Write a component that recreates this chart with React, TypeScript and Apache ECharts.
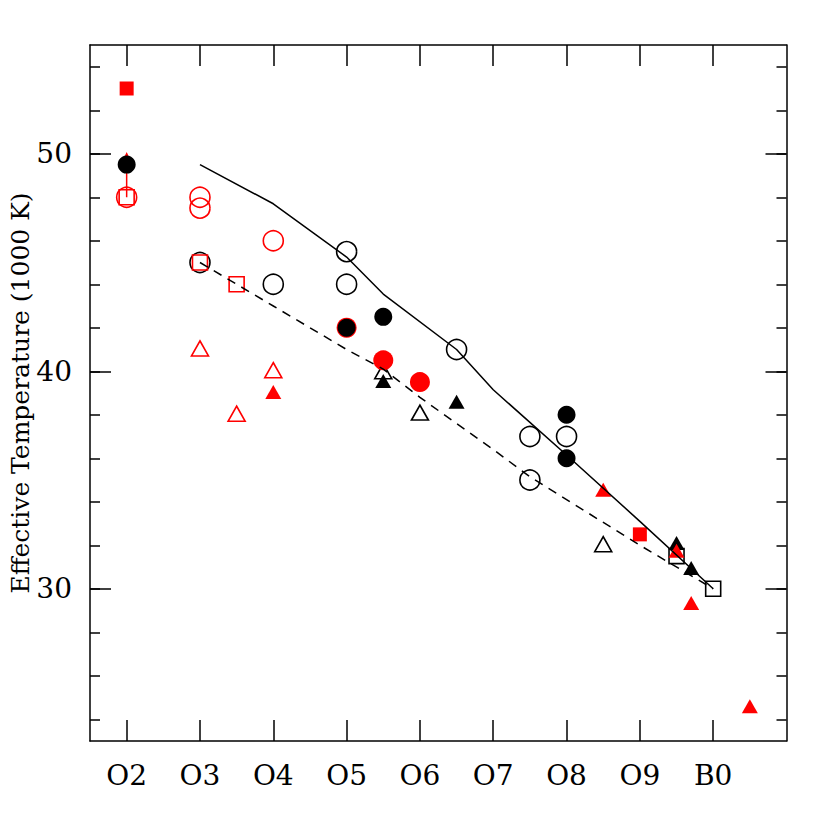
import React, { useEffect, useRef } from "react";
import * as echarts from "echarts";

const spectralTicks = [2, 3, 4, 5, 6, 7, 8, 9, 10];
const spectralLabels = ["O2", "O3", "O4", "O5", "O6", "O7", "O8", "O9", "B0"];
const tempMinorTicks = [24, 26, 28, 30, 32, 34, 36, 38, 40, 42, 44, 46, 48, 50, 52, 54];
const tempMajorTicks = [30, 40, 50];

const modelSolid = [[3, 49.5], [4, 47.7], [5, 45.25], [5.5, 43.55], [6.5, 41.0], [7, 39.15], [8, 36.15], [9, 33.1], [10, 30.0]];
const modelDashed = [[3, 45.0], [4, 43.0], [5, 41.0], [5.5, 40.1], [6, 38.8], [7, 36.4], [7.5, 35.15], [8, 34.1], [9, 32.0], [10, 30.0]];

const blackOpenCircles = [[3, 45], [4, 44], [5, 45.5], [5, 44], [6.5, 41], [7.5, 37], [7.5, 35], [8, 37]];
const redOpenCircles = [[2, 48], [3, 48], [3, 47.5], [4, 46]];
const redFilledCircles = [[5, 42], [5.5, 40.5], [6, 39.5]];
const blackFilledCircles = [[2, 49.5], [5, 42], [5.5, 42.5], [8, 38], [8, 36]];
const blackOpenTriangles = [[5.5, 40], [6, 38.1], [8.5, 32.05]];
const redOpenTriangles = [[3, 41.05], [3.5, 38.05], [4, 40.05]];
const blackFilledTriangles = [[5.5, 39.55], [6.5, 38.6], [9.5, 32.1], [9.7, 30.95]];
const redFilledTriangles = [[4, 39.05], [8.5, 34.55], [9.5, 31.75], [9.7, 29.35], [10.5, 24.6]];
const blackOpenSquares = [[9.5, 31.5], [10, 30]];
const redOpenSquares = [[2, 48], [3, 45], [3.5, 44]];
const redFilledSquares = [[2, 53], [9, 32.5]];
const lowerLimitArrow = [[2, 48, 2, 50]];

const RED = "#ff0000";
const BLACK = "#000000";
const FONT = "DejaVu Serif";

function openSeries(data: number[][], symbol: string, size: number | number[], color: string) {
  return {
    type: "scatter",
    data,
    symbol,
    symbolSize: size,
    itemStyle: { color: "rgba(0,0,0,0)", borderColor: color, borderWidth: 1.6, opacity: 1 },
    silent: true,
  };
}

function filledSeries(data: number[][], symbol: string, size: number | number[], color: string) {
  return {
    type: "scatter",
    data,
    symbol,
    symbolSize: size,
    itemStyle: { color, borderWidth: 0, opacity: 1 },
    silent: true,
  };
}

export default function App() {
  const ref = useRef<HTMLDivElement>(null);

  useEffect(() => {
    if (!ref.current) return;
    const chart = echarts.init(ref.current, null, { renderer: "svg" });

    const axisLine = { show: true, lineStyle: { color: BLACK, width: 1.5 } };
    const baseY = { type: "value", min: 23, max: 55, splitLine: { show: false } };
    const baseX = { type: "value", min: 1.5, max: 11, splitLine: { show: false } };

    chart.setOption({
      animation: false,
      backgroundColor: "#ffffff",
      grid: { left: 90, right: 43.5, top: 45, bottom: 89, containLabel: false, outerBoundsMode: "none" },
      xAxis: [
        {
          ...baseX,
          position: "bottom",
          axisLine,
          axisTick: { show: true, inside: true, length: 21, customValues: spectralTicks, lineStyle: { color: BLACK, width: 1.5 } },
          axisLabel: {
            show: true,
            customValues: spectralTicks,
            formatter: (v: number) => spectralLabels[spectralTicks.indexOf(v)] ?? "",
            color: BLACK,
            fontFamily: FONT,
            fontSize: 28,
            margin: 20,
          },
        },
        {
          ...baseX,
          position: "top",
          axisLine,
          axisTick: { show: true, inside: true, length: 21, customValues: spectralTicks, lineStyle: { color: BLACK, width: 1.5 } },
          axisLabel: { show: false },
        },
      ],
      yAxis: [
        {
          ...baseY,
          position: "left",
          axisLine,
          axisTick: { show: true, inside: true, length: 10, customValues: tempMinorTicks, lineStyle: { color: BLACK, width: 1.5 } },
          axisLabel: { show: true, customValues: tempMajorTicks, color: BLACK, fontFamily: FONT, fontSize: 28, margin: 18 },
          name: "Effective Temperature (1000 K)",
          nameLocation: "middle",
          nameGap: 57,
          nameRotate: 90,
          nameMoveOverlap: false,
          nameTextStyle: { color: BLACK, fontFamily: FONT, fontSize: 25 },
        },
        {
          ...baseY,
          position: "left",
          axisLine: { show: false },
          axisTick: { show: true, inside: true, length: 21, customValues: tempMajorTicks, lineStyle: { color: BLACK, width: 1.5 } },
          axisLabel: { show: false },
        },
        {
          ...baseY,
          position: "right",
          axisLine,
          axisTick: { show: true, inside: true, length: 10, customValues: tempMinorTicks, lineStyle: { color: BLACK, width: 1.5 } },
          axisLabel: { show: false },
        },
        {
          ...baseY,
          position: "right",
          axisLine: { show: false },
          axisTick: { show: true, inside: true, length: 21, customValues: tempMajorTicks, lineStyle: { color: BLACK, width: 1.5 } },
          axisLabel: { show: false },
        },
      ],
      series: [
        {
          type: "line",
          data: modelSolid,
          showSymbol: false,
          symbol: "none",
          lineStyle: { color: BLACK, width: 1.5, type: "solid" },
          silent: true,
        },
        {
          type: "line",
          data: modelDashed,
          showSymbol: false,
          symbol: "none",
          lineStyle: { color: BLACK, width: 1.5, type: [9, 7] },
          silent: true,
        },
        {
          type: "custom",
          data: lowerLimitArrow,
          encode: { x: [0, 2], y: [1, 3] },
          silent: true,
          renderItem: (_params: any, api: any) => {
            const p0 = api.coord([api.value(0), api.value(1)]);
            const p1 = api.coord([api.value(2), api.value(3)]);
            const style = { stroke: RED, lineWidth: 1.5, fill: "none" };
            return {
              type: "group",
              children: [
                { type: "line", shape: { x1: p0[0], y1: p0[1], x2: p1[0], y2: p1[1] }, style },
                {
                  type: "polyline",
                  shape: { points: [[p1[0] - 4.5, p1[1] + 10], [p1[0], p1[1]], [p1[0] + 4.5, p1[1] + 10]] },
                  style,
                },
              ],
            };
          },
        },
        openSeries(blackOpenCircles, "circle", 20, BLACK),
        openSeries(redOpenCircles, "circle", 20, RED),
        openSeries(blackOpenTriangles, "triangle", [17, 15], BLACK),
        openSeries(redOpenTriangles, "triangle", [17, 15], RED),
        openSeries(blackOpenSquares, "rect", 15, BLACK),
        openSeries(redOpenSquares, "rect", 15, RED),
        filledSeries(redFilledCircles, "circle", 20, RED),
        filledSeries(blackFilledCircles, "circle", 18, BLACK),
        filledSeries(blackFilledTriangles, "triangle", [16, 14], BLACK),
        filledSeries(redFilledTriangles, "triangle", [16, 14], RED),
        filledSeries(redFilledSquares, "rect", 14, RED),
      ],
    });

    return () => chart.dispose();
  }, []);

  return <div ref={ref} style={{ position: "absolute", left: 0, top: 0, width: 830, height: 830 }} />;
}
